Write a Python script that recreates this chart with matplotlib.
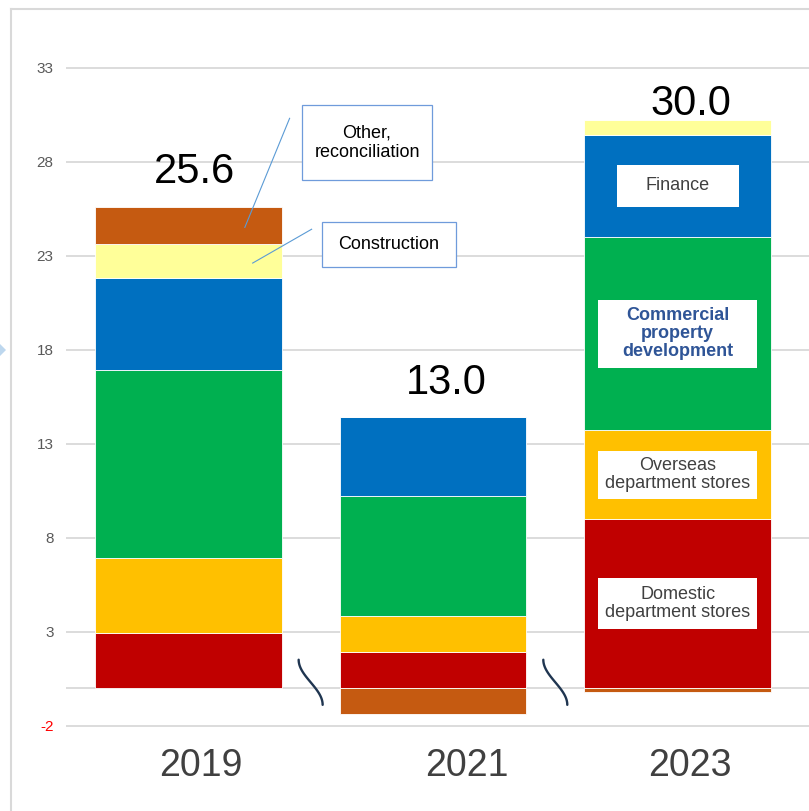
import matplotlib.pyplot as plt
import numpy as np
from matplotlib.patches import Rectangle, Polygon
from matplotlib.lines import Line2D

plt.rcParams['font.family'] = ['Liberation Sans', 'DejaVu Sans']

# operating profit by segment, stacked per fiscal year
years = ['2019', '2021', '2023']
domestic = [2.9, 1.9, 9.0]
overseas = [4.0, 1.9, 4.7]
commercial = [10.0, 6.4, 10.3]
finance = [4.9, 4.2, 5.4]
construction = [1.8, 0.0, 0.8]
other = [2.0, -1.4, -0.2]
totals = [25.6, 13.0, 30.0]
yticks = [-2, 3, 8, 13, 18, 23, 28, 33]

segments = [
    ('Domestic\ndepartment stores', domestic, '#C00000'),
    ('Overseas\ndepartment stores', overseas, '#FFC000'),
    ('Commercial\nproperty\ndevelopment', commercial, '#00B050'),
    ('Finance', finance, '#0070C0'),
    ('Construction', construction, '#FFFF99'),
    ('Other,\nreconciliation', other, '#C55A11'),
]

W, H = 809, 811
fig = plt.figure(figsize=(W / 100, H / 100), dpi=100)
ax = fig.add_axes([66 / W, (H - 740) / H, (W - 66) / W, 720 / H])

x = np.arange(len(years))
width = 0.763
pos = np.zeros(len(years))
neg = np.zeros(len(years))
mids = {}
for name, vals, color in segments:
    vals = np.array(vals)
    bottom = np.where(vals >= 0, pos, neg)
    ax.bar(x, vals, width, bottom=bottom, color=color, edgecolor='white',
           linewidth=0.6, zorder=3)
    mids[name] = bottom + vals / 2
    pos = pos + np.clip(vals, 0, None)
    neg = neg + np.clip(vals, None, 0)

# totals above each bar (slightly right of centre)
gaps = [17, 17, 4]
shifts = [0.025, 0.053, 0.053]
for xi, top, tot, g, s in zip(x, pos, totals, gaps, shifts):
    ax.annotate(f'{tot:.1f}', (xi + s, top), xytext=(0, g), textcoords='offset points',
                ha='center', va='baseline', fontsize=30, color='black')

# boxed labels inside the 2023 bar
inner = [('Finance', 0.498, 2.23, '#404040', 'normal'),
         ('Commercial\nproperty\ndevelopment', 0.649, 3.62, '#2F5597', 'bold'),
         ('Overseas\ndepartment stores', 0.649, 2.55, '#404040', 'normal'),
         ('Domestic\ndepartment stores', 0.649, 2.71, '#404040', 'normal')]
for name, bw, bh, tc, fw in inner:
    yc = mids[name][2]
    ax.add_patch(Rectangle((x[2] - bw / 2, yc - bh / 2), bw, bh, facecolor='white',
                           edgecolor='none', zorder=4))
    ax.text(x[2], yc, name, ha='center', va='center', fontsize=13, color=tc,
            fontweight=fw, linespacing=1.1, zorder=5)

# callouts for the thin segments of the 2019 bar
callouts = [('Other,\nreconciliation', 0.463, 0.998, 27.0, 31.0, 0.414, 30.3, 0.231),
            ('Construction', 0.545, 1.096, 22.4, 24.8, 0.504, 24.4, 0.263)]
for name, x0, x1, y0, y1, lx, ly, ex in callouts:
    ax.add_patch(Rectangle((x0, y0), x1 - x0, y1 - y0, facecolor='white',
                           edgecolor='#6F9BDB', linewidth=0.9, zorder=4))
    ax.text((x0 + x1) / 2, (y0 + y1) / 2, name, ha='center', va='center',
            fontsize=13, color='black', linespacing=1.25, zorder=5)
    ax.plot([lx, ex], [ly, mids[name][0] - 0.1], color='#5B9BD5', lw=0.8, zorder=5)

# axis break marks between bars
t = np.linspace(0, 1, 60)
for xb in [0.5, 1.5]:
    ax.plot(xb + 0.049 * np.sin(np.pi * (t - 0.5)), 1.5 - 2.4 * t,
            color='#1F3550', lw=1.7, zorder=5, solid_capstyle='round')

ax.axhline(0, color='#D9D9D9', lw=1.3, zorder=2)
ax.set_xlim(-0.5, 2.537)
ax.set_ylim(-2.77, 35.53)
ax.set_yticks(yticks)
ax.set_yticklabels([str(v) for v in yticks], fontsize=11, color='#595959')
ax.get_yticklabels()[0].set_color('red')
# year labels sit a little right of the bar centres
ax.set_xticks(x + np.array([0.05, 0.14, 0.05]))
ax.set_xticklabels(years, fontsize=27, color='#404040')
ax.tick_params(axis='both', length=0)
ax.tick_params(axis='y', pad=9)
ax.tick_params(axis='x', pad=6)
ax.grid(axis='y', color='#D9D9D9', lw=1.3, zorder=0)
for s in ax.spines.values():
    s.set_visible(False)

# outer frame and small marker on the left edge
fig.add_artist(Line2D([11 / W, 1], [1 - 8.5 / H, 1 - 8.5 / H], color='#D9D9D9', lw=1.5))
fig.add_artist(Line2D([11 / W, 11 / W], [0, 1 - 8.5 / H], color='#D9D9D9', lw=1.5))
fig.add_artist(Polygon([[0, 1 - 344 / H], [6 / W, 1 - 350 / H], [0, 1 - 356 / H]],
                       closed=True, facecolor='#BDD7EE', edgecolor='none'))

fig.savefig('out.png', dpi=100)
